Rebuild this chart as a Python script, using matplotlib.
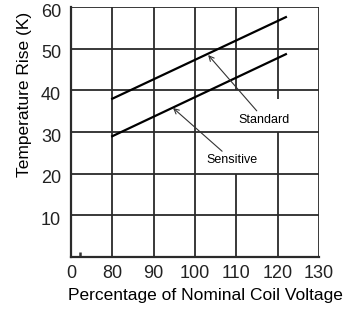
import matplotlib
matplotlib.use("Agg")
from matplotlib import pyplot as plt
from matplotlib.transforms import ScaledTranslation

# data
voltage = [80, 122]
standard = [38, 57.6]
sensitive = [29, 48.7]

x_ticks = [70, 80, 90, 100, 110, 120, 130]
x_labels = ["0", "80", "90", "100", "110", "120", "130"]
y_ticks = [10, 20, 30, 40, 50, 60]

plt.rcParams['font.family'] = ['Liberation Sans', 'DejaVu Sans']

fig = plt.figure(figsize=(3.56, 3.09), dpi=100)
ax = fig.add_axes([0.199, 0.168, 0.697, 0.809])
ax.set_xlim(70, 130)
ax.set_ylim(0, 60)

grid_kw = dict(color='#2a2a2a', linewidth=1.3, zorder=1)
# vertical grid lines, some with gaps left for the labels
ax.vlines([80, 90, 100, 130], 0, 60, **grid_kw)
ax.vlines(110, 0, 20, **grid_kw)
ax.vlines(110, 40, 60, **grid_kw)
ax.vlines(120, 0, 30, **grid_kw)
ax.vlines(120, 38, 60, **grid_kw)
ax.hlines([10, 20, 30, 40, 50, 60], 70, 130, **grid_kw)
# little stray mark near the origin
ax.vlines(72.3, 0, 1.3, color='#333333', linewidth=1.8, zorder=2)

ax.plot(voltage, standard, color='black', linewidth=1.6, zorder=3)
ax.plot(voltage, sensitive, color='black', linewidth=1.6, zorder=3)

arrow = dict(arrowstyle='->', color='#333333', linewidth=0.8, shrinkA=0, shrinkB=0)
ax.annotate('Standard', xy=(103.2, 48.5), xytext=(110.6, 33),
            fontsize=9, va='center', ha='left', arrowprops=arrow)
ax.annotate('Sensitive', xy=(94.7, 35.8), xytext=(102.8, 23.3),
            fontsize=9, va='center', ha='left', arrowprops=arrow)

for side in ['top', 'right']:
    ax.spines[side].set_visible(False)
for side in ['left', 'bottom']:
    ax.spines[side].set_linewidth(1.6)
    ax.spines[side].set_color('#2a2a2a')

ax.set_xticks(x_ticks)
ax.set_xticklabels(x_labels)
ax.set_yticks(y_ticks)
ax.tick_params(length=0, labelsize=13, colors='#222222')
ax.tick_params(axis='x', pad=6)
ax.tick_params(axis='y', pad=7)
# y tick labels sit a little below their grid lines in the original
shift = ScaledTranslation(0, -3 / 100, fig.dpi_scale_trans)
for lab in ax.get_yticklabels():
    lab.set_transform(lab.get_transform() + shift)

ax.set_xlabel("Percentage of Nominal Coil Voltage", fontsize=12.5)
ax.xaxis.set_label_coords(0.542, -0.125)
ax.set_ylabel("Temperature Rise (K)", fontsize=12.5)
ax.yaxis.set_label_coords(-0.157, 0.652)

fig.savefig("out.png", dpi=100)
